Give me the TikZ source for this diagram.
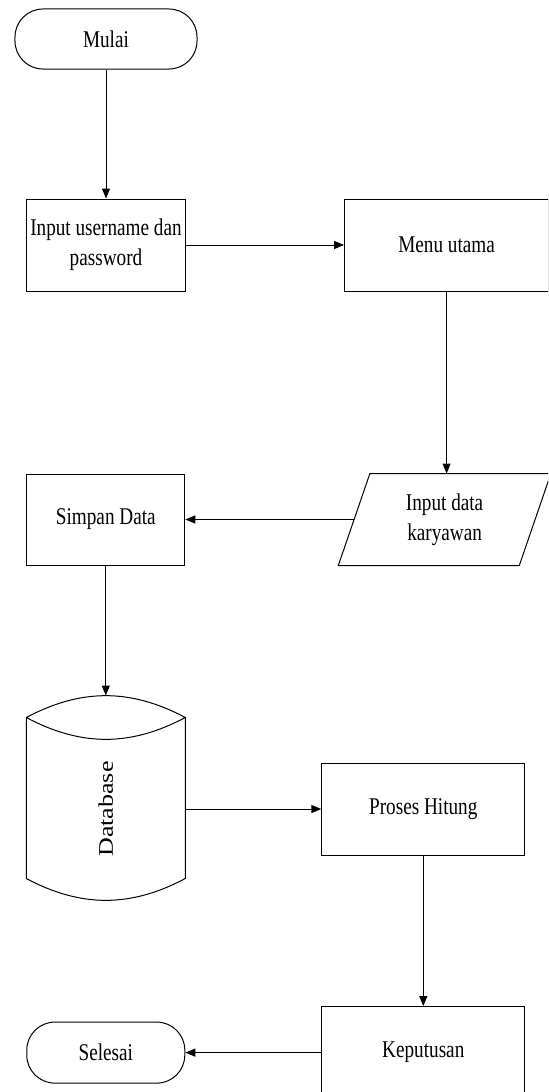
\documentclass[tikz,border=0pt]{standalone}
\usepackage{fontspec}
\setmainfont{Liberation Serif}[FakeStretch=0.8]
\newfontfamily\dbfont{Liberation Serif}
\usetikzlibrary{arrows.meta, positioning, calc}

\begin{document}
\begin{tikzpicture}[
    line width=0.5pt,
    every node/.style={font=\fontsize{12pt}{15pt}\selectfont},
    terminal/.style={rectangle, rounded corners=14pt, draw, align=center, inner sep=0pt, minimum height=30pt},
    process/.style={rectangle, draw, align=center, inner sep=0pt, minimum height=46pt},
    io/.style={rectangle, align=center, inner sep=0pt, minimum width=90pt, minimum height=45.5pt},
    storage/.style={rectangle, align=center, inner sep=0pt, minimum width=79pt, minimum height=69pt},
    arrow/.style={-{Triangle[length=5pt, width=4pt]}}
]

\useasboundingbox (-53pt,19.5pt) rectangle (221pt,-526.5pt);
\clip (-53pt,19.5pt) rectangle (221pt,-526.5pt);

\node[terminal, minimum width=91pt] (mulai) {Mulai};
\node[process, minimum width=79pt, below=64.5pt of mulai] (login) {Input username dan\\password};
\node[process, minimum width=102pt, right=79.3pt of login] (menu) {Menu utama};
\node[io, below=91pt of menu, xshift=-1pt] (inputdata) {Input data\\karyawan};
\node[process, minimum width=79pt, minimum height=45.5pt, left=84.4pt of inputdata] (simpan) {Simpan Data};
\node[storage, below=87pt of simpan] (database) {\rotatebox{90}{\scalebox{1}[0.8]{\dbfont\fontsize{13pt}{15pt}\selectfont Database}}};
\node[process, minimum width=101.5pt, right=68pt of database] (proses) {Proses Hitung};
\node[process, minimum width=101.5pt, below=75.3pt of proses] (keputusan) {Keputusan};
\node[terminal, minimum width=79pt, minimum height=30.5pt, left=68pt of keputusan] (selesai) {Selesai};

\draw ([xshift=7.9pt]inputdata.north west) -- ([xshift=7.9pt]inputdata.north east)
    -- ([xshift=-7.9pt]inputdata.south east) -- ([xshift=-7.9pt]inputdata.south west) -- cycle;

\coordinate (dbtop) at ([yshift=22pt]database.north);
\draw ([yshift=11pt]database.north west) to[bend left=28] ([yshift=11pt]database.north east)
    to[bend left=28] ([yshift=11pt]database.north west);
\draw ([yshift=11pt]database.north west) -- (database.south west) to[bend right=28] (database.south east)
    -- ([yshift=11pt]database.north east);

\draw[arrow] (mulai) -- (login);
\draw[arrow] (login) -- (menu);
\draw[arrow] (menu) -- (menu |- inputdata.north);
\draw[arrow] (inputdata) -- (simpan);
\draw[arrow] (simpan) -- (dbtop);
\draw[arrow] (database) -- (proses);
\draw[arrow] (proses) -- (keputusan);
\draw[arrow] (keputusan) -- (selesai);

\end{tikzpicture}
\end{document}
